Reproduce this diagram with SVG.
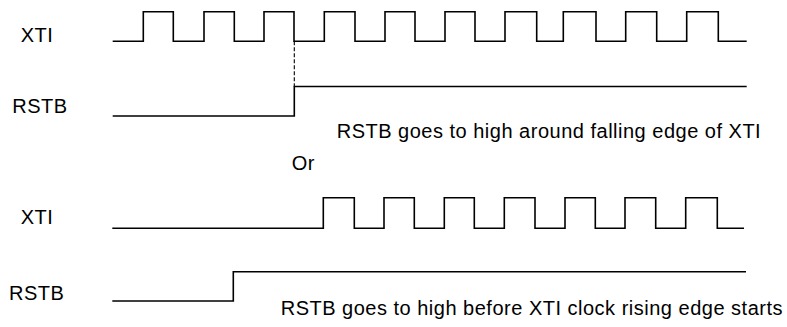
<svg xmlns="http://www.w3.org/2000/svg" width="787" height="327" viewBox="0 0 787 327">
  <style>
    .wave { fill: none; stroke: #000; stroke-width: 1.6; stroke-linejoin: miter; stroke-linecap: butt; }
    .dash { fill: none; stroke: #000; stroke-width: 1.1; stroke-dasharray: 4 2; }
    .lbl { font-family: "Liberation Sans", Arial, Helvetica, sans-serif; font-size: 20px; letter-spacing: 0.5px; fill: #000; }
  </style>
  <rect width="787" height="327" fill="#fff"/>
  <g id="top-xti">
    <text class="lbl" x="20.7" y="41.7">XTI</text>
    <path class="wave" d="M112.7 41.3 H143.3 V11.7 H173.3 V41.3 H204 V11.7 H234.3 V41.3 H264 V11.7 H294 V41.3 H324.3 V11.7 H355 V41.3 H385 V11.7 H415 V41.3 H445 V11.7 H475 V41.3 H505 V11.7 H536.7 V41.3 H563.3 V11.7 H596 V41.3 H625.7 V11.7 H656.7 V41.3 H686.7 V11.7 H718.3 V41.3 H746.7"/>
  </g>
  <g id="top-rstb">
    <text class="lbl" x="12.3" y="112.7">RSTB</text>
    <path class="wave" d="M112.7 116 H294.3 V86.5 H746.7"/>
  </g>
  <g id="connectors">
    <path class="dash" d="M294.3 41.3 V86.5"/>
  </g>
  <text class="lbl" x="336.7" y="138.3">RSTB goes to high around falling edge of XTI</text>
  <text class="lbl" x="291.7" y="170">Or</text>
  <g id="bottom-xti">
    <text class="lbl" x="20.7" y="224.3">XTI</text>
    <path class="wave" d="M112.3 228.3 H323.3 V197.7 H354.3 V228.3 H384 V197.7 H414.3 V228.3 H444.3 V197.7 H474.3 V228.3 H504.3 V197.7 H535 V228.3 H565 V197.7 H595.3 V228.3 H625 V197.7 H655.7 V228.3 H685.7 V197.7 H717.3 V228.3 H744"/>
  </g>
  <g id="bottom-rstb">
    <text class="lbl" x="9" y="300">RSTB</text>
    <path class="wave" d="M112.3 301 H233.3 V271.7 H746"/>
  </g>
  <text class="lbl" x="280.7" y="315.4">RSTB goes to high before XTI clock rising edge starts</text>
</svg>
